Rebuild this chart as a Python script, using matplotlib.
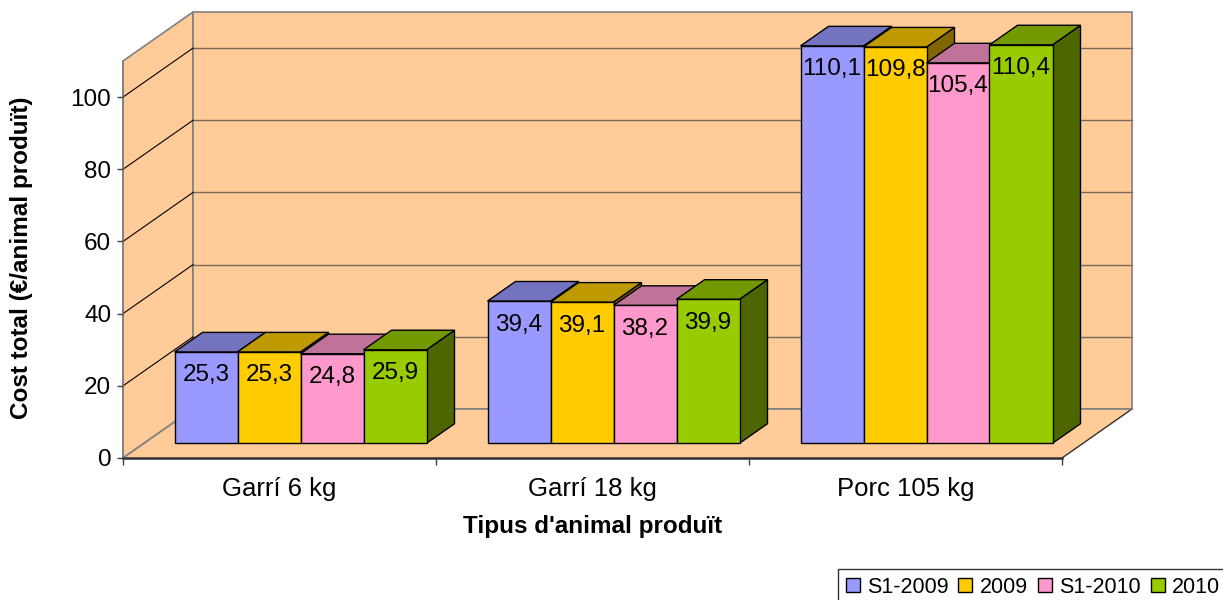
import matplotlib
matplotlib.use("Agg")
import matplotlib.pyplot as plt
from matplotlib.patches import Polygon, Rectangle, Patch

plt.rcParams['font.family'] = ['Liberation Sans', 'DejaVu Sans']

categories = ["Garrí 6 kg", "Garrí 18 kg", "Porc 105 kg"]
series = ["S1-2009", "2009", "S1-2010", "2010"]
s1_2009 = [25.3, 39.4, 110.1]
y2009 = [25.3, 39.1, 109.8]
s1_2010 = [24.8, 38.2, 105.4]
y2010 = [25.9, 39.9, 110.4]
values = [s1_2009, y2009, s1_2010, y2010]
labels = [["25,3", "39,4", "110,1"], ["25,3", "39,1", "109,8"],
          ["24,8", "38,2", "105,4"], ["25,9", "39,9", "110,4"]]
yticks = [0, 20, 40, 60, 80, 100]

front_cols = ["#9999FF", "#FFCC00", "#FF99CC", "#99CC00"]
top_cols = ["#7373BF", "#BF9900", "#BF7399", "#739900"]
side_cols = ["#4D4D80", "#806600", "#804D66", "#4D6600"]
wall_col = "#FFCC99"

W, H = 1223, 600
fig = plt.figure(figsize=(W / 100, H / 100), dpi=100)
ax = fig.add_axes([123 / W, (H - 458) / H, 939 / W, 397 / H])
ax.set_xlim(-0.5, 2.5)
ax.set_ylim(0, 110)
ax.patch.set_visible(False)

# depth offsets (full wall depth) in data units
DX = 70 / 313.0
DY = 49 / 3.609
ymax = 110
x0, x1 = -0.5, 2.5

# walls & floor
side = Polygon([(x0, 0), (x0, ymax), (x0 + DX, ymax + DY), (x0 + DX, DY)],
               closed=True, fc=wall_col, ec="#808080", lw=1.2, zorder=0.5, clip_on=False)
back = Rectangle((x0 + DX, DY), x1 - x0, ymax, fc=wall_col, ec="#808080", lw=1.2,
                 zorder=0.5, clip_on=False)
floor = Polygon([(x0, 0), (x1, 0), (x1 + DX, DY), (x0 + DX, DY)], closed=True,
                fc=wall_col, ec="none", zorder=0.6, clip_on=False)
for p in (side, back, floor):
    ax.add_patch(p)
ax.plot([x0, x0 + DX], [0, DY], color="#808080", lw=1.2, zorder=0.7, clip_on=False)
ax.plot([x1, x1 + DX], [0, DY], color="#303030", lw=1.0, zorder=0.7, clip_on=False)
ax.plot([x0 + DX, x1 + DX], [DY, DY], color="#808080", lw=1.2, zorder=0.7, clip_on=False)

# gridlines
for v in yticks[1:]:
    ax.plot([x0 + DX, x1 + DX], [v + DY, v + DY], color="#7a6a5a", lw=1.0, zorder=0.8, clip_on=False)
    ax.plot([x0, x0 + DX], [v, v + DY], color="black", lw=0.8, zorder=0.8, clip_on=False)

# bars
bw = 63 / 313.0
d0, d1 = 0.3, 0.7
ddx, ddy = (d1 - d0) * DX, (d1 - d0) * DY
z = 3
for g in range(len(categories)):
    for s in range(len(series)):
        v = values[s][g]
        bx = g - 2 * bw + s * bw + d0 * DX
        by = d0 * DY
        sidep = Polygon([(bx + bw, by), (bx + bw, by + v), (bx + bw + ddx, by + v + ddy),
                         (bx + bw + ddx, by + ddy)], closed=True, fc=side_cols[s],
                        ec="black", lw=1.0, zorder=z, clip_on=False)
        topp = Polygon([(bx, by + v), (bx + bw, by + v), (bx + bw + ddx, by + v + ddy),
                        (bx + ddx, by + v + ddy)], closed=True, fc=top_cols[s],
                       ec="black", lw=1.0, zorder=z + 0.1, clip_on=False)
        frontp = Rectangle((bx, by), bw, v, fc=front_cols[s], ec="black", lw=1.0,
                           zorder=z + 0.2, clip_on=False)
        for p in (sidep, topp, frontp):
            ax.add_patch(p)
        ax.text(bx + bw / 2, by + v - 6.5, labels[s][g], ha="center", va="center",
                fontsize=17.5, zorder=z + 0.3)
        z += 1

# axes styling
for sp in ("top", "right"):
    ax.spines[sp].set_visible(False)
ax.spines["left"].set_color("#808080")
ax.spines["left"].set_linewidth(1.2)
ax.spines["bottom"].set_color("#303030")
ax.spines["bottom"].set_linewidth(1.8)
ax.spines["left"].set_zorder(0.9)
ax.spines["bottom"].set_zorder(0.9)

ax.set_yticks(yticks)
ax.set_yticklabels([str(t) for t in yticks])
ax.tick_params(axis="y", direction="out", length=4.5, width=1.0, color="#404040",
               labelsize=17.5, pad=4)
ax.set_xticks(range(len(categories)))
ax.set_xticklabels(categories)
ax.set_xticks([-0.5, 0.5, 1.5, 2.5], minor=True)
ax.tick_params(axis="x", which="major", length=0, labelsize=18.5, pad=14)
ax.tick_params(axis="x", which="minor", direction="out", length=5, width=1.0, color="#404040")

fig.text(22 / W, 1 - 258 / H, "Cost total (€/animal produït)", rotation=90,
         ha="center", va="center", fontsize=17.5, fontweight="bold")
fig.text(593 / W, 1 - 526 / H, "Tipus d'animal produït", ha="center", va="center",
         fontsize=17.5, fontweight="bold")

handles = [Patch(fc=c, ec="black", lw=1.0) for c in front_cols]
leg = fig.legend(handles, series, loc="upper left", bbox_to_anchor=(838 / W, 1 - 569 / H),
                 ncol=4, fontsize=15.5, frameon=True, fancybox=False, edgecolor="black",
                 handlelength=0.65, handleheight=0.65, handletextpad=0.35,
                 columnspacing=0.45, borderpad=0.35, borderaxespad=0)
leg.get_frame().set_linewidth(1.0)

fig.savefig("out.png", dpi=100)
